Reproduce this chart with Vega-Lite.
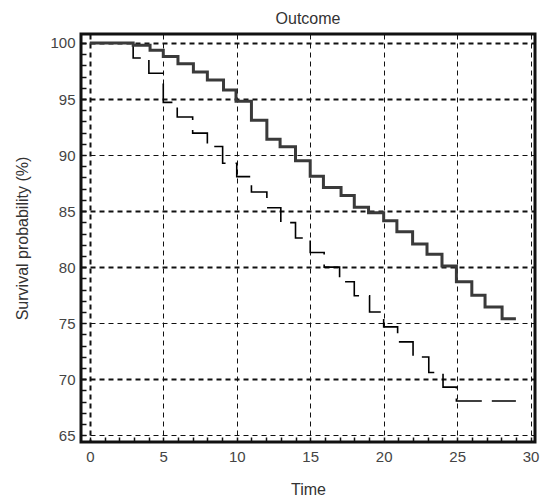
{
  "$schema": "https://vega.github.io/schema/vega-lite/v6.json",
  "width": 454,
  "height": 408,
  "autosize": {"type": "none"},
  "padding": {"left": 81, "top": 34, "right": 5, "bottom": 58},
  "background": "white",
  "config": {
    "view": {"stroke": "#111111", "strokeWidth": 3},
    "font": "Liberation Sans"
  },
  "title": {"text": "Outcome", "fontSize": 16, "fontWeight": "normal", "color": "#333333", "offset": 7, "anchor": "middle"},
  "datasets": {
    "km": [
      {"t": 0, "s": 100, "g": "B"},
      {"t": 2.95, "s": 98.66, "g": "B"},
      {"t": 4.02, "s": 97.3, "g": "B"},
      {"t": 5.0, "s": 94.7, "g": "B"},
      {"t": 5.95, "s": 93.4, "g": "B"},
      {"t": 7.0, "s": 91.96, "g": "B"},
      {"t": 8.0, "s": 90.76, "g": "B"},
      {"t": 9.04, "s": 89.27, "g": "B"},
      {"t": 10.0, "s": 88.08, "g": "B"},
      {"t": 11.0, "s": 86.7, "g": "B"},
      {"t": 12.05, "s": 85.3, "g": "B"},
      {"t": 13.0, "s": 83.97, "g": "B"},
      {"t": 14.0, "s": 82.6, "g": "B"},
      {"t": 15.0, "s": 81.3, "g": "B"},
      {"t": 15.95, "s": 80.0, "g": "B"},
      {"t": 17.0, "s": 78.7, "g": "B"},
      {"t": 18.0, "s": 77.45, "g": "B"},
      {"t": 19.04, "s": 76.0, "g": "B"},
      {"t": 20.0, "s": 74.67, "g": "B"},
      {"t": 20.95, "s": 73.33, "g": "B"},
      {"t": 22.0, "s": 71.99, "g": "B"},
      {"t": 23.07, "s": 70.6, "g": "B"},
      {"t": 24.04, "s": 69.3, "g": "B"},
      {"t": 24.95, "s": 68.06, "g": "B"},
      {"t": 29.0, "s": 68.06, "g": "B"},
      {"t": 0, "s": 100, "g": "A"},
      {"t": 2.95, "s": 99.8, "g": "A"},
      {"t": 4.1, "s": 99.35, "g": "A"},
      {"t": 5.0, "s": 98.8, "g": "A"},
      {"t": 6.0, "s": 98.15, "g": "A"},
      {"t": 7.05, "s": 97.4, "g": "A"},
      {"t": 8.0, "s": 96.7, "g": "A"},
      {"t": 9.1, "s": 95.8, "g": "A"},
      {"t": 9.95, "s": 94.8, "g": "A"},
      {"t": 11.0, "s": 93.1, "g": "A"},
      {"t": 12.05, "s": 91.4, "g": "A"},
      {"t": 12.95, "s": 90.75, "g": "A"},
      {"t": 14.0, "s": 89.5, "g": "A"},
      {"t": 15.0, "s": 88.1, "g": "A"},
      {"t": 15.9, "s": 87.1, "g": "A"},
      {"t": 17.1, "s": 86.4, "g": "A"},
      {"t": 18.0, "s": 85.35, "g": "A"},
      {"t": 18.97, "s": 84.86, "g": "A"},
      {"t": 20.0, "s": 84.15, "g": "A"},
      {"t": 20.9, "s": 83.16, "g": "A"},
      {"t": 21.97, "s": 82.06, "g": "A"},
      {"t": 22.95, "s": 81.14, "g": "A"},
      {"t": 23.97, "s": 80.1, "g": "A"},
      {"t": 24.95, "s": 78.7, "g": "A"},
      {"t": 26.0, "s": 77.5, "g": "A"},
      {"t": 26.9, "s": 76.45, "g": "A"},
      {"t": 28.06, "s": 75.4, "g": "A"},
      {"t": 29.0, "s": 75.4, "g": "A"}
    ]
  },
  "data": {"name": "km"},
  "encoding": {
    "x": {
      "field": "t", "type": "quantitative",
      "scale": {"domain": [-0.6, 30.3], "nice": false, "zero": false},
      "axis": {
        "title": "Time", "titleFontSize": 16, "titleFontWeight": "normal", "titleColor": "#333333", "titlePadding": 17,
        "values": [0,1,2,3,4,5,6,7,8,9,10,11,12,13,14,15,16,17,18,19,20,21,22,23,24,25,26,27,28,29,30],
        "labelExpr": "datum.value % 5 === 0 ? datum.label : ''",
        "labelFontSize": 15, "labelColor": "#444444", "labelPadding": 12, "labelFlush": false,
        "domain": false,
        "tickSize": -5, "tickColor": "#111111", "tickWidth": 1.5,
        "grid": true, "gridColor": "#111111", "gridDash": [5, 4],
        "gridOpacity": {"condition": {"test": "datum.value % 5 === 0", "value": 1}, "value": 0},
        "gridWidth": {"condition": {"test": "datum.value === 0", "value": 2}, "value": 1}
      }
    },
    "y": {
      "field": "s", "type": "quantitative",
      "scale": {"domain": [64.4, 100.8], "nice": false, "zero": false},
      "axis": {
        "title": "Survival probability (%)", "titleFontSize": 16, "titleFontWeight": "normal", "titleColor": "#333333", "titlePadding": 19,
        "values": [65,66,67,68,69,70,71,72,73,74,75,76,77,78,79,80,81,82,83,84,85,86,87,88,89,90,91,92,93,94,95,96,97,98,99,100],
        "labelExpr": "datum.value % 5 === 0 ? datum.label : ''",
        "labelFontSize": 15, "labelColor": "#444444", "labelPadding": 11,
        "domain": false,
        "tickSize": -5, "tickColor": "#111111", "tickWidth": 1.5,
        "grid": true, "gridColor": "#111111", "gridDash": [5, 4],
        "gridOpacity": {"condition": {"test": "datum.value % 5 === 0", "value": 1}, "value": 0},
        "gridWidth": {"condition": {"test": "datum.value === 90 || datum.value === 75 || datum.value === 65", "value": 1}, "value": 2}
      }
    }
  },
  "layer": [
    {
      "transform": [{"filter": "datum.g === 'B'"}],
      "mark": {"type": "line", "interpolate": "step-after", "color": "#000000", "strokeWidth": 1.6, "strokeDash": [28, 10]}
    },
    {
      "transform": [{"filter": "datum.g === 'A'"}],
      "mark": {"type": "line", "interpolate": "step-after", "color": "#3a3a3a", "strokeWidth": 3}
    }
  ]
}
